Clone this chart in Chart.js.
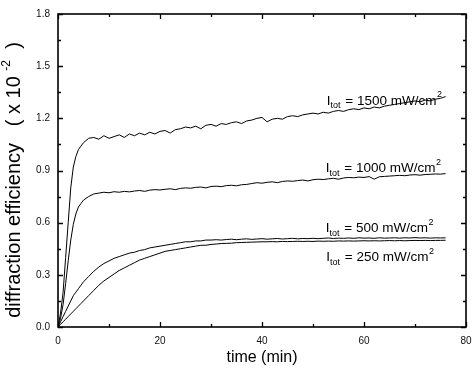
<!DOCTYPE html>
<html>
<head>
<meta charset="utf-8">
<script src="https://cdn.jsdelivr.net/npm/chart.js@4"></script>
<style>
  body { margin: 0; background: #fff; }
</style>
</head>
<body>
<canvas id="effChart" width="476" height="377"></canvas>
<script>
// time (min)
const time = [0, 0.5, 1, 1.5, 2, 2.5, 3, 3.5, 4, 4.5,
  5, 6, 7, 8, 9, 10, 11, 12, 13, 14, 15, 16, 17, 18, 19, 20,
  21, 22, 23, 24, 25, 26, 27, 28, 29, 30, 31, 32, 33, 34, 35,
  36, 37, 38, 39, 40, 41, 42, 43, 44, 45, 46, 47, 48, 49, 50,
  51, 52, 53, 54, 55, 56, 57, 58, 59, 60, 61, 62, 63, 64, 65,
  66, 67, 68, 69, 70, 71, 72, 73, 74, 75, 76];

// diffraction efficiency (x 10^-2)
const eff1500 = [0, 0.08, 0.20, 0.40, 0.60, 0.80, 0.92, 0.98, 1.02, 1.04,
  1.06, 1.085, 1.09, 1.08, 1.10, 1.085, 1.095, 1.105, 1.09, 1.11, 1.10, 1.115, 1.105, 1.12, 1.11, 1.125,
  1.13, 1.115, 1.135, 1.14, 1.15, 1.145, 1.155, 1.14, 1.16, 1.165, 1.155, 1.17, 1.165, 1.175, 1.18,
  1.17, 1.185, 1.19, 1.20, 1.205, 1.18, 1.195, 1.20, 1.195, 1.21, 1.215, 1.21, 1.22, 1.225, 1.23,
  1.225, 1.235, 1.23, 1.24, 1.245, 1.24, 1.25, 1.255, 1.25, 1.26, 1.255, 1.265, 1.26, 1.27, 1.275,
  1.28, 1.285, 1.29, 1.295, 1.30, 1.295, 1.305, 1.30, 1.31, 1.315, 1.325];

const eff1000 = [0, 0.05, 0.13, 0.25, 0.38, 0.50, 0.59, 0.65, 0.69, 0.71,
  0.73, 0.75, 0.765, 0.77, 0.775, 0.772, 0.778, 0.775, 0.78, 0.777, 0.782, 0.785, 0.78, 0.787, 0.79, 0.788,
  0.792, 0.795, 0.79, 0.797, 0.80, 0.798, 0.803, 0.805, 0.80, 0.808, 0.81, 0.807, 0.813, 0.815, 0.812,
  0.818, 0.82, 0.825, 0.83, 0.827, 0.832, 0.835, 0.83, 0.837, 0.84, 0.838, 0.842, 0.845, 0.84, 0.847,
  0.85, 0.848, 0.852, 0.855, 0.85, 0.857, 0.86, 0.858, 0.862, 0.86, 0.865, 0.85, 0.864, 0.866, 0.868,
  0.87, 0.872, 0.87, 0.874, 0.876, 0.873, 0.877, 0.878, 0.88, 0.879, 0.882];

const eff500 = [0, 0.03, 0.06, 0.09, 0.12, 0.15, 0.18, 0.20, 0.22, 0.24,
  0.26, 0.29, 0.32, 0.345, 0.365, 0.38, 0.395, 0.405, 0.415, 0.425, 0.43, 0.44, 0.445, 0.455, 0.46, 0.465,
  0.47, 0.475, 0.48, 0.485, 0.49, 0.49, 0.495, 0.495, 0.50, 0.50, 0.502, 0.50, 0.503, 0.505, 0.502,
  0.505, 0.507, 0.504, 0.506, 0.508, 0.505, 0.507, 0.509, 0.506, 0.508, 0.51, 0.507, 0.509, 0.508, 0.51,
  0.508, 0.51, 0.512, 0.509, 0.511, 0.51, 0.512, 0.51, 0.513, 0.511, 0.512, 0.51, 0.513, 0.511, 0.512,
  0.513, 0.511, 0.513, 0.512, 0.514, 0.512, 0.513, 0.511, 0.513, 0.512, 0.513];

const eff250 = [0, 0.015, 0.03, 0.045, 0.06, 0.075, 0.09, 0.105, 0.12, 0.135,
  0.15, 0.18, 0.21, 0.24, 0.265, 0.285, 0.305, 0.325, 0.34, 0.355, 0.37, 0.385, 0.395, 0.405, 0.415, 0.425,
  0.435, 0.44, 0.445, 0.45, 0.455, 0.46, 0.465, 0.47, 0.47, 0.475, 0.477, 0.48, 0.481, 0.482, 0.485,
  0.486, 0.487, 0.488, 0.489, 0.49, 0.49, 0.491, 0.49, 0.492, 0.491, 0.492, 0.493, 0.492, 0.493, 0.492,
  0.494, 0.493, 0.494, 0.493, 0.495, 0.494, 0.495, 0.494, 0.495, 0.496, 0.495, 0.496, 0.495, 0.496, 0.497,
  0.496, 0.497, 0.496, 0.497, 0.498, 0.497, 0.498, 0.497, 0.498, 0.498, 0.499];

const seriesNames = ['1500', '1000', '500', '250'];

// curve labels: value, anchor (time, efficiency)
const noteValues = ['1500', '1000', '500', '250'];
const noteX = [52.7, 52.5, 52.5, 52.6];
const noteY = [1.30, 0.914, 0.569, 0.40];

const xTicks = [0, 20, 40, 60, 80];
const yTicks = [0, 0.3, 0.6, 0.9, 1.2, 1.5, 1.8];

const toPoints = arr => time.map((t, i) => ({ x: t, y: arr[i] }));

// inward ticks + frame box
const frameTicks = {
    id: 'frameTicks',
    afterDraw(chart) {
        const { ctx, chartArea: a, scales: { x, y } } = chart;
        ctx.save();
        ctx.strokeStyle = '#000';
        ctx.lineWidth = 1.6;
        ctx.strokeRect(a.left, a.top, a.right - a.left, a.bottom - a.top);
        ctx.lineWidth = 1.3;
        ctx.beginPath();
        for (let v = 0; v <= 80; v += 10) {
            const px = Math.round(x.getPixelForValue(v)) + 0.5;
            const len = v % 20 === 0 ? 5 : 3;
            ctx.moveTo(px, a.bottom); ctx.lineTo(px, a.bottom - len);
            ctx.moveTo(px, a.top); ctx.lineTo(px, a.top + len);
        }
        for (let i = 0; i <= 12; i++) {
            const py = Math.round(y.getPixelForValue(i * 0.15)) + 0.5;
            const len = i % 2 === 0 ? 5 : 3;
            ctx.moveTo(a.left, py); ctx.lineTo(a.left + len, py);
            ctx.moveTo(a.right, py); ctx.lineTo(a.right - len, py);
        }
        ctx.stroke();
        ctx.restore();
    }
};

const FONT = '"Liberation Sans", Arial, sans-serif';

// text with sub/superscripts
const notes = {
    id: 'notes',
    afterDraw(chart) {
        const { ctx, scales: { x, y } } = chart;
        ctx.save();
        ctx.fillStyle = '#000';
        ctx.textBaseline = 'middle';
        noteValues.forEach((val, i) => {
            let px = x.getPixelForValue(noteX[i]);
            const py = y.getPixelForValue(noteY[i]);
            ctx.font = '13.5px ' + FONT;
            ctx.fillText('I', px, py);
            px += ctx.measureText('I').width;
            ctx.font = '9px ' + FONT;
            ctx.fillText('tot', px, py + 5);
            px += ctx.measureText('tot').width + 1;
            ctx.font = '13.5px ' + FONT;
            const main = ' = ' + val + ' mW/cm';
            ctx.fillText(main, px, py);
            px += ctx.measureText(main).width;
            ctx.font = '9px ' + FONT;
            ctx.fillText('2', px + 0.5, py - 6);
        });

        // y axis title
        ctx.translate(14, 180);
        ctx.rotate(-Math.PI / 2);
        const t1 = 'diffraction efficiency   ( x 10 ';
        ctx.font = '20px ' + FONT;
        const w1 = ctx.measureText(t1).width;
        ctx.font = '12px ' + FONT;
        const w2 = ctx.measureText('-2').width;
        ctx.font = '20px ' + FONT;
        const w3 = ctx.measureText('  )').width;
        let sx = -(w1 + w2 + w3) / 2;
        ctx.fillText(t1, sx, 0);
        sx += w1;
        ctx.font = '12px ' + FONT;
        ctx.fillText('-2', sx, -7);
        sx += w2;
        ctx.font = '20px ' + FONT;
        ctx.fillText('  )', sx, 0);
        ctx.restore();
    }
};

const ctx = document.getElementById('effChart').getContext('2d');

new Chart(ctx, {
    type: 'line',
    data: {
        datasets: [eff1500, eff1000, eff500, eff250].map((arr, i) => ({
            label: seriesNames[i],
            data: toPoints(arr),
            borderColor: '#000',
            borderWidth: 1,
            pointRadius: 0,
            tension: 0,
            fill: false
        }))
    },
    options: {
        responsive: false,
        animation: false,
        layout: { padding: { top: 14, right: 10, left: 0, bottom: 0 } },
        plugins: {
            legend: { display: false },
            tooltip: { enabled: false }
        },
        scales: {
            x: {
                type: 'linear',
                min: 0,
                max: 80,
                afterBuildTicks: s => { s.ticks = xTicks.map(v => ({ value: v })); },
                afterFit: s => { s.height = 50; s.paddingRight = 0; s.paddingLeft = 0; },
                grid: { display: false, drawTicks: false },
                border: { display: false },
                ticks: {
                    padding: 8,
                    color: '#111',
                    font: { family: FONT, size: 10 }
                },
                title: {
                    display: true,
                    text: 'time (min)',
                    color: '#000',
                    padding: { top: 2, bottom: 10 },
                    font: { family: FONT, size: 16 }
                }
            },
            y: {
                min: 0,
                max: 1.8,
                afterBuildTicks: s => { s.ticks = yTicks.map(v => ({ value: v })); },
                afterFit: s => { s.width = 58; },
                grid: { display: false, drawTicks: false },
                border: { display: false },
                ticks: {
                    padding: 8,
                    color: '#111',
                    font: { family: FONT, size: 10 },
                    callback: v => Number(v).toFixed(1)
                }
            }
        }
    },
    plugins: [frameTicks, notes]
});
</script>
</body>
</html>
